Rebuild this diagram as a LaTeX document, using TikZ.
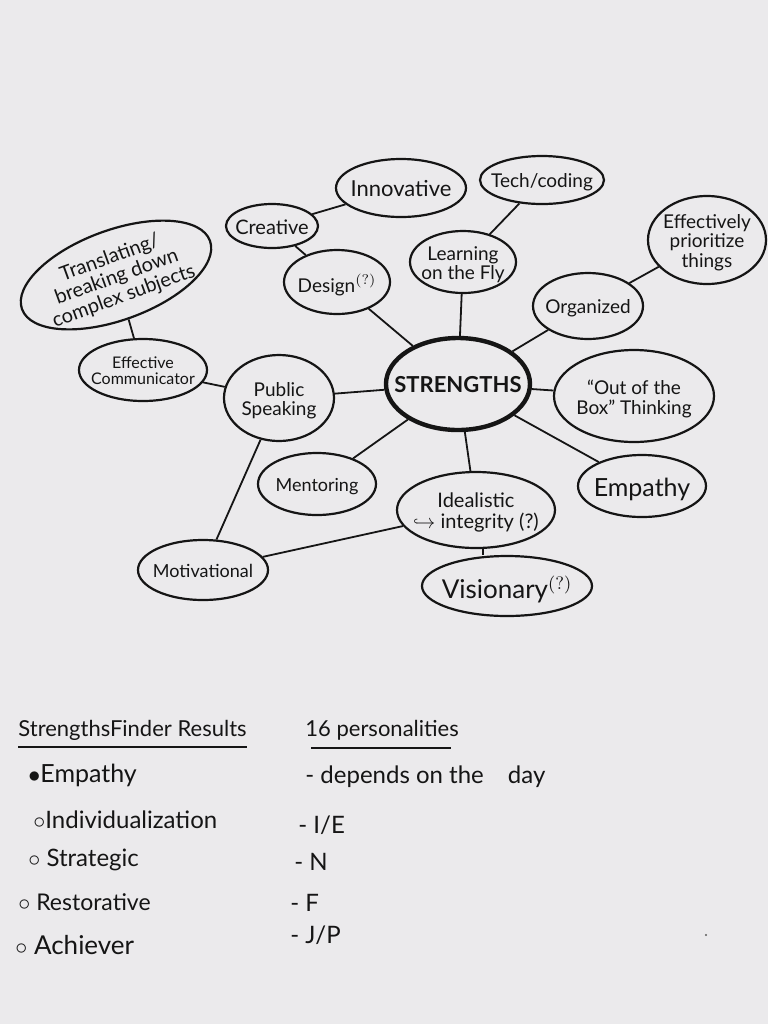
\documentclass[tikz,border=0pt]{standalone}
\usepackage{fontspec}
\setmainfont{Lato}
\usetikzlibrary{shapes.geometric}
\definecolor{paper}{HTML}{EBEAEC}
\definecolor{ink}{HTML}{151515}
\newcommand{\tx}[1]{\raisebox{-0.43em}[0pt][0pt]{\makebox[0pt]{\renewcommand{\arraystretch}{0.95}\begin{tabular}{@{}c@{}}#1\end{tabular}}}}
\newcommand{\fs}[1]{\fontsize{#1}{#1}\selectfont}
\tikzset{
  bub/.style={draw=ink, ellipse, line width=1.1pt, inner sep=0pt, text=ink, font=\fs{10}},
  hub/.style={bub, line width=2.2pt, font=\fs{11}\bfseries},
  link/.style={draw=ink, line width=0.9pt},
  note/.style={anchor=west, inner sep=0pt, text=ink, font=\fs{12}},
  uline/.style={draw=ink, line width=1pt}
}
\begin{document}
\begin{tikzpicture}[x=0.5pt,y=-0.5pt]
\fill[paper] (0,0) rectangle (768,1024);
\useasboundingbox (0,0) rectangle (768,1024);

% nodes
\node[hub, minimum width=72pt, minimum height=46pt] (str) at (458,384) {\tx{STRENGTHS}};
\node[bub, minimum width=65pt, minimum height=29pt, font=\fs{11}] (innov) at (401,188) {\tx{Innovative}};
\node[bub, minimum width=46pt, minimum height=22pt, font=\fs{10}] (creat) at (272,226) {\tx{Creative}};
\node[bub, minimum width=62pt, minimum height=24pt, font=\fs{9.5}] (tech) at (542,180) {\tx{Tech/coding}};
\node[bub, minimum width=53pt, minimum height=31pt, font=\fs{9.5}] (learn) at (463,262) {\tx{Learning\\on the Fly}};
\node[bub, minimum width=59pt, minimum height=44pt, font=\fs{9.5}] (prio) at (707,240) {\tx{Effectively\\prioritize\\things}};
\node[bub, minimum width=55pt, minimum height=33pt, font=\fs{9.5}] (org) at (588,306) {\tx{Organized}};
\node[bub, minimum width=53pt, minimum height=32pt, font=\fs{9.5}] (design) at (337,282) {\tx{Design$^{(?)}$}};
\node[bub, minimum width=100pt, minimum height=45pt, rotate=20, font=\fs{10}] (trans) at (116,275) {\tx{Translating/\\breaking down\\complex subjects}};
\node[bub, minimum width=64pt, minimum height=31pt, font=\fs{8}] (comm) at (143,370) {\tx{Effective\\Communicator}};
\node[bub, minimum width=55pt, minimum height=43pt, font=\fs{9.5}] (pub) at (279,398) {\tx{Public\\Speaking}};
\node[bub, minimum width=80pt, minimum height=46pt, font=\fs{9.5}] (box) at (634,396) {\tx{``Out of the\\Box'' Thinking}};
\node[bub, minimum width=59pt, minimum height=31pt, font=\fs{9}] (ment) at (317,484) {\tx{Mentoring}};
\node[bub, minimum width=79pt, minimum height=38pt, font=\fs{10}] (ideal) at (476,510) {\tx{Idealistic\\$\hookrightarrow$ integrity (?)}};
\node[bub, minimum width=64pt, minimum height=31pt, font=\fs{12.5}] (emp) at (642,486) {\tx{Empathy}};
\node[bub, minimum width=65pt, minimum height=30pt, font=\fs{9}] (moti) at (203,570) {\tx{Motivational}};
\node[bub, minimum width=85pt, minimum height=30pt, font=\fs{13}] (vis) at (507,586) {\tx{Visionary$^{(?)}$}};

% connectors
\draw[link] (innov) -- (creat);
\draw[link] (creat) -- (design);
\draw[link] (design) -- (str);
\draw[link] (tech) -- (learn);
\draw[link] (learn) -- (str);
\draw[link] (prio) -- (org);
\draw[link] (org) -- (str);
\draw[link] (trans) -- (comm);
\draw[link] (comm) -- (pub);
\draw[link] (pub) -- (str);
\draw[link] (str) -- (box);
\draw[link] (str) -- (ment);
\draw[link] (str) -- (ideal);
\draw[link] (str) -- (emp);
\draw[link] (pub) -- (moti);
\draw[link] (moti) -- (ideal);
\draw[link] (ideal.-80) -- (ideal.-80 |- vis.north);

% lists
\node[note, font=\fs{11}] (sfh) at (18,730) {StrengthsFinder Results};
\draw[uline] ([yshift=-3pt]sfh.south west) -- ([yshift=-3pt]sfh.south east);
\node[note, font=\fs{12.5}] (s1) at (28,775) {$\bullet$Empathy};
\node[note] (s2) at (33,820) {$\circ$Individualization};
\node[note] (s3) at (28,860) {$\circ$ Strategic};
\node[note, font=\fs{11.5}] (s4) at (18,902) {$\circ$ Restorative};
\node[note, font=\fs{13}] (s5) at (15,945) {$\circ$ Achiever};

\node[note, font=\fs{11}] (ph) at (305,730) {16 personalities};
\draw[uline] ([xshift=3pt,yshift=-4pt]ph.south west) -- ([xshift=-4pt,yshift=-4pt]ph.south east);
\node[note] (p1) at (305,777) {- depends on the\quad day};
\node[note] (p2) at (298,825) {- I/E};
\node[note] (p3) at (294,862) {- N};
\node[note] (p4) at (290,903) {- F};
\node[note] (p5) at (290,935) {- J/P};

\fill[ink!70] (706,935) circle (1.2);
\end{tikzpicture}
\end{document}
